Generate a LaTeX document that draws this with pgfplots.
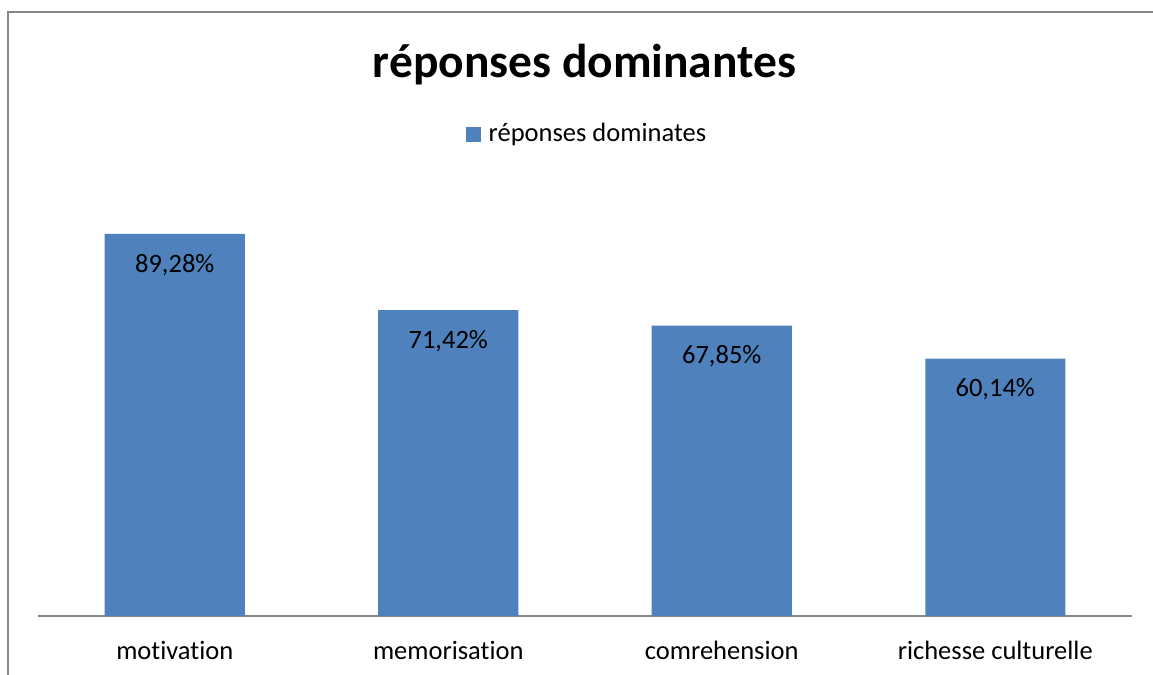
\documentclass[border=0pt]{standalone}
\usepackage{pgfplots}
\pgfplotsset{compat=1.18}
\usepackage{pgfplotstable}
\usepackage{fontspec}
\setmainfont{Carlito}[Ligatures=NoCommon]
\definecolor{barblue}{HTML}{4F81BD}
\definecolor{framegray}{HTML}{878787}
\definecolor{axisgray}{HTML}{868686}
\pgfplotstableread{
x y lbl
0 89.28 89,28
1 71.42 71,42
2 67.85 67,85
3 60.14 60,14
}\datatable
\begin{document}
\begin{tikzpicture}
\useasboundingbox (0,0) rectangle (576.5pt,337.5pt);
\draw[framegray, line width=1pt] (4pt,0pt) -- (4pt,331.5pt) -- (576.5pt,331.5pt);
\node[font=\fontsize{23.75}{28}\selectfont\bfseries, anchor=center] at (292.25pt,305pt) {réponses dominantes};
\begin{axis}[
  at={(19pt,29.5pt)}, anchor=south west,
  scale only axis, width=547pt, height=213pt,
  xmin=-0.5, xmax=3.5, ymin=0, ymax=99.5,
  enlargelimits=false,
  hide y axis,
  axis x line*=bottom,
  x axis line style={axisgray, line width=0.8pt, -},
  xtick=data,
  xticklabels={motivation,memorisation,comrehension,richesse culturelle},
  xtick style={draw=none},
  xticklabel style={font=\fontsize{13.25}{16}\selectfont, anchor=center, yshift=-13pt},
  ybar, bar width=70pt,
  legend style={at={(0.5027,1.131)}, anchor=center, draw=none, fill=none,
    font=\fontsize{13.25}{16}\selectfont, inner sep=0pt},
  legend image code/.code={\fill[barblue] (0pt,-3.75pt) rectangle (7.5pt,3.75pt); \path (9.5pt,0pt);},
]
\addplot[fill=barblue, draw=none,
  point meta=explicit symbolic,
  nodes near coords={\pgfplotspointmeta\%},
  nodes near coords style={font=\fontsize{13.25}{16}\selectfont, anchor=center, yshift=-15.5pt, black},
] table[x=x, y=y, meta=lbl] {\datatable};
\addlegendentry{réponses dominates}
\end{axis}
\end{tikzpicture}
\end{document}
